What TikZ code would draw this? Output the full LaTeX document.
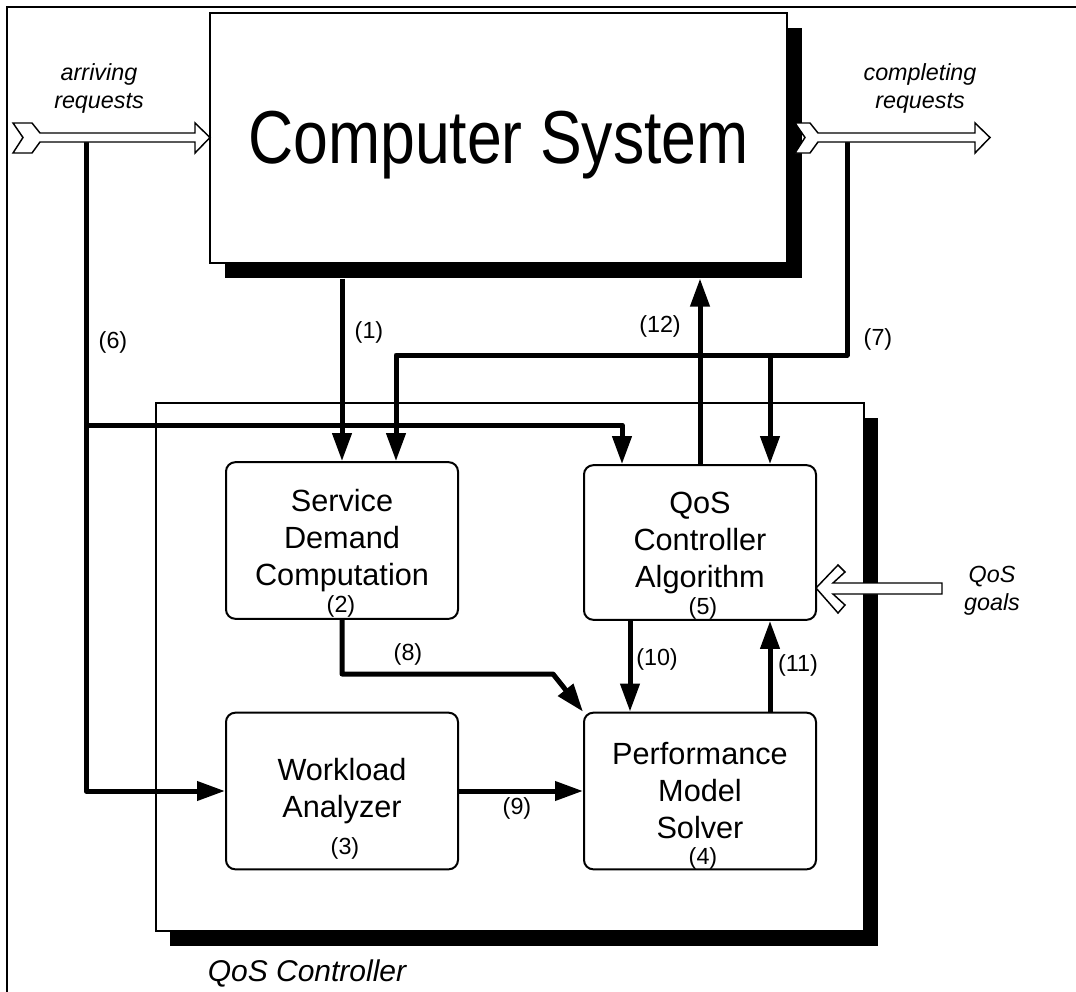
\documentclass[tikz,border=0pt]{standalone}
\usepackage{fontspec}
\setmainfont{Liberation Sans}
\usetikzlibrary{arrows.meta,shadows}

\tikzset{
  sysbox/.style={draw, line width=1.5pt, fill=white, inner sep=0pt},
  block/.style={draw, line width=1.5pt, fill=white, rounded corners=7pt,
    minimum width=174pt, minimum height=117.5pt, inner sep=0pt, align=center,
    font=\fontsize{23}{27.75}\selectfont},
  flow/.style={line width=3.75pt, line join=round, -{Triangle[length=21pt,width=14pt]}},
  num/.style={font=\fontsize{17.5}{21}\selectfont, inner sep=0pt},
  note/.style={font=\fontsize{17.5}{21}\selectfont\itshape, align=center, inner sep=0pt},
  hollow/.style={draw, fill=white, line width=1.1pt, line join=miter}
}

\begin{document}
\begin{tikzpicture}[x=0.75pt, y=-0.75pt]
  \useasboundingbox (0,0) rectangle (1076,992);
  % outer frame
  \draw[line width=1.5pt] (7,992) -- (7,7) -- (1076,7);

  % QoS controller with its shadow
  \node[sysbox, minimum width=531pt, minimum height=396pt,
        general shadow={fill=black, shadow xshift=10.5pt, shadow yshift=-11.25pt}] (qosc) at (510,667) {};
  \node[font=\fontsize{22.5}{27}\selectfont\itshape, inner sep=0pt] (qosclbl) at (307,973) {QoS Controller};

  % computer system
  \node[sysbox, minimum width=432.75pt, minimum height=187.5pt, text depth=0pt,
        general shadow={fill=black, shadow xshift=11.25pt, shadow yshift=-11.25pt},
        font=\fontsize{46.9}{56}\selectfont] (cs) at (498.5,137.5) {\scalebox{1}[1.2]{Computer System}};
  \coordinate (csb) at ([yshift=-11.25pt]cs.south);

  % the four blocks
  \node[block] (sdc) at (342,540.5) {Service\\Demand\\Computation};
  \node[block, minimum height=116pt] (qca) at (700,542.5) {QoS\\Controller\\Algorithm};
  \node[block] (wla) at (342,791) {Workload\\Analyzer};
  \node[block] (pms) at (700,791) {Performance\\Model\\Solver};

  \node[num] (n2) at (341,606) {(2)};
  \node[num] (n5) at (703,608) {(5)};
  \node[num] (n3) at (345,848) {(3)};
  \node[num] (n4) at (703,858) {(4)};

  % taps and corners
  \coordinate (c6) at (86,139);
  \coordinate (j6) at (86,425);
  \coordinate (k6) at (622,425);
  \coordinate (c7) at (847,139);
  \coordinate (r7) at (847,355);
  \coordinate (b7) at (770,355);
  \coordinate (l7) at (396,355);
  \coordinate (k8) at (553,674);

  % connectors
  \draw[flow] (sdc.north |- csb) -- (sdc.north);
  \draw[flow] (qca.north) -- (qca.north |- csb);
  \draw[flow] (c6) -- (c6 |- wla.west) -- (wla.west);
  \draw[flow] (j6) -- (k6) -- (k6 |- qca.north);
  \draw[flow] (c7) -- (r7) -- (l7) -- (l7 |- sdc.north);
  \draw[flow] (b7) -- (b7 |- qca.north);
  \draw[flow] (sdc.south) |- (k8) -- (pms.north west);
  \draw[flow] (wla.east) -- (pms.west);
  \draw[flow] ([xshift=-52.5pt]qca.south) -- ([xshift=-52.5pt]pms.north);
  \draw[flow] ([xshift=52.5pt]pms.north) -- ([xshift=52.5pt]qca.south);

  % request and goal arrows
  \draw[hollow] (13,123) -- (32,123) -- (40,133) -- (195,133) -- (195,123) -- (210,137.5)
    -- (195,153) -- (195,142) -- (40,142) -- (32,153) -- (13,153) -- (23,137.5) -- cycle;
  \draw[hollow] (795,123) -- (810,123) -- (818,133) -- (975,133) -- (975,123) -- (990,137.5)
    -- (975,153) -- (975,142) -- (818,142) -- (810,153) -- (795,153) -- (805,137.5) -- cycle;
  \draw[hollow] (816,588) -- (838,565) -- (845,572) -- (833,583) -- (942,583) -- (942,594)
    -- (833,594) -- (845,605) -- (838,613) -- cycle;

  % labels
  \node[num] (l1) at (369,332) {(1)};
  \node[num] (l6) at (113,342) {(6)};
  \node[num] (l7lbl) at (878,339) {(7)};
  \node[num] (l8) at (408,654) {(8)};
  \node[num] (l9) at (517,808) {(9)};
  \node[num] (l10) at (657,659) {(10)};
  \node[num] (l11) at (798,665) {(11)};
  \node[num] (l12) at (660,326) {(12)};

  \node[note] (arr) at (99,88) {arriving\\requests};
  \node[note] (cmp) at (920,88) {completing\\requests};
  \node[note] (goals) at (992,591) {QoS\\goals};
\end{tikzpicture}
\end{document}
